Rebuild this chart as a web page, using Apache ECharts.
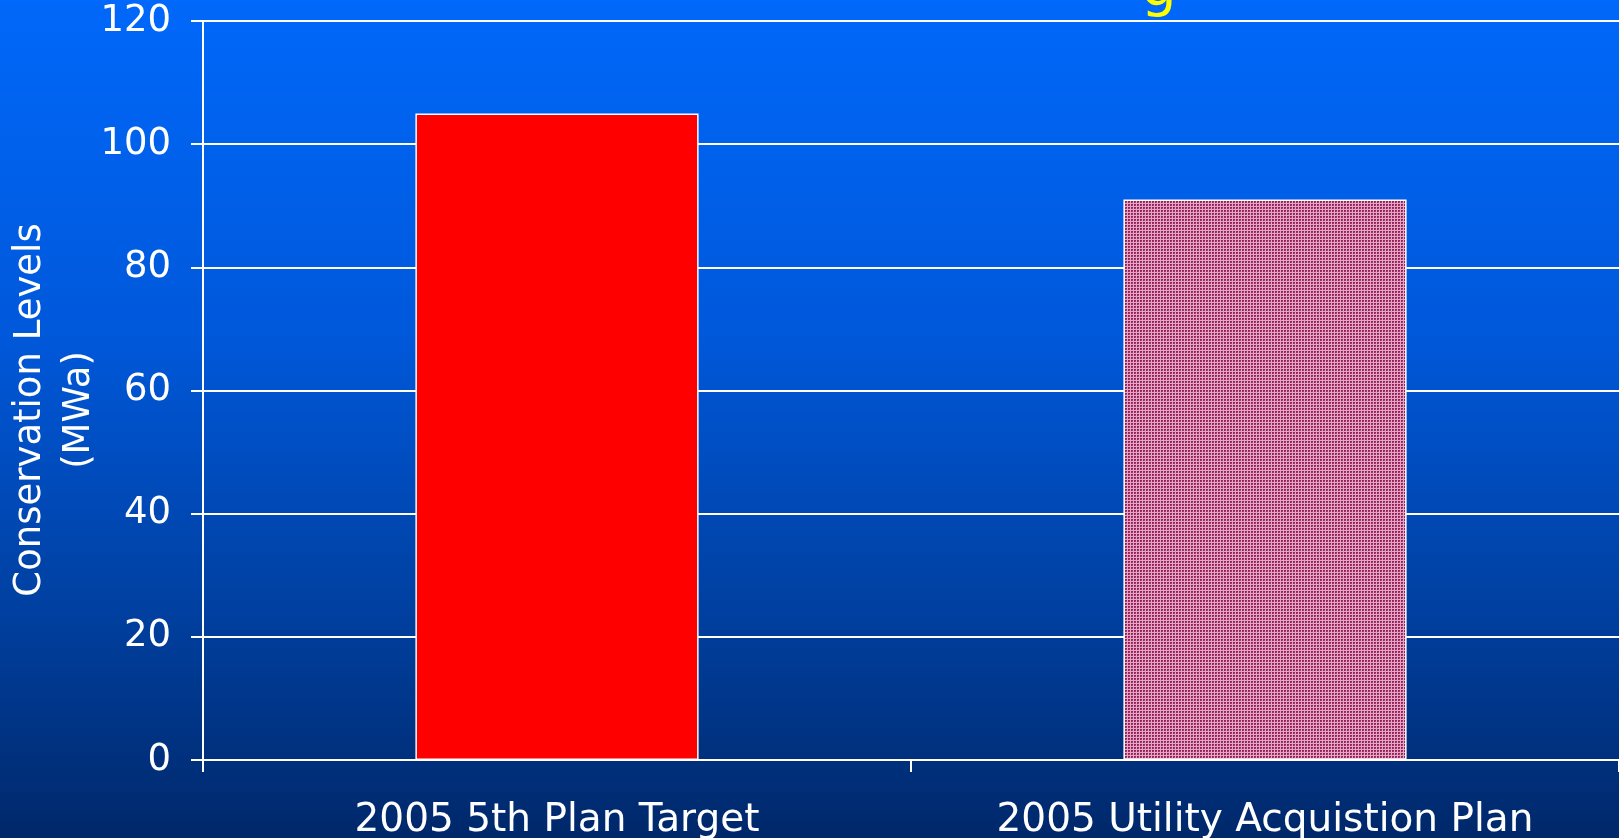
<!DOCTYPE html>
<html>
<head>
<meta charset="utf-8">
<script src="https://cdn.jsdelivr.net/npm/echarts@6/dist/echarts.min.js"></script>
<style>
html,body{margin:0;padding:0;width:1619px;height:838px;overflow:hidden;}
#c{width:1619px;height:838px;}
</style>
</head>
<body>
<div id="c"></div>
<script>
var categories = ['2005 5th Plan Target', '2005 Utility Acquistion Plan'];
var values = [105, 91];
var yTicks = {min: 0, max: 120, interval: 20};
var yAxisName = ['Conservation Levels', '(MWa)'];
var titleFragment = 'g';

// hatched pattern for second bar
var pc = document.createElement('canvas');
pc.width = 3; pc.height = 3;
var pctx = pc.getContext('2d');
pctx.fillStyle = '#e4a6c4';
pctx.fillRect(0, 0, 3, 3);
pctx.fillStyle = '#922459';
pctx.fillRect(0, 0, 2, 2);
pctx.fillStyle = '#b0447a';
pctx.fillRect(1, 1, 1, 1);

var chart = echarts.init(document.getElementById('c'), null, {renderer: 'canvas'});
var font = 'DejaVu Sans';
chart.setOption({
  backgroundColor: {
    type: 'linear', x: 0, y: 0, x2: 0, y2: 1,
    colorStops: [
      {offset: 0, color: '#0068fa'},
      {offset: 0.4, color: '#0058da'},
      {offset: 0.75, color: '#003e9c'},
      {offset: 1, color: '#00286a'}
    ]
  },
  animation: false,
  grid: {left: 203, right: 0, top: 21, bottom: 78, containLabel: false, outerBoundsMode: 'none'},
  xAxis: {
    type: 'category',
    data: categories,
    axisLine: {lineStyle: {color: '#ffffff', width: 2}},
    axisTick: {show: true, length: 12, lineStyle: {color: '#ffffff', width: 2}},
    axisLabel: {color: '#ffffff', fontSize: 39, fontFamily: font, margin: 41}
  },
  yAxis: {
    type: 'value',
    min: yTicks.min, max: yTicks.max, interval: yTicks.interval,
    axisLine: {show: true, lineStyle: {color: '#ffffff', width: 2}},
    axisTick: {show: true, length: 12, lineStyle: {color: '#ffffff', width: 2}},
    axisLabel: {color: '#ffffff', fontSize: 37, fontFamily: font, margin: 32},
    splitLine: {show: true, lineStyle: {color: '#ffffff', width: 2}}
  },
  series: [{
    type: 'bar',
    barWidth: '40%',
    data: [
      {value: values[0], itemStyle: {color: '#ff0000'}},
      {value: values[1], itemStyle: {color: {image: pc, repeat: 'repeat'}}}
    ],
    itemStyle: {borderColor: '#ffffff', borderWidth: 1.5}
  }],
  graphic: [
    {
      type: 'text',
      x: 55, y: 410,
      rotation: Math.PI / 2,
      style: {
        text: yAxisName.join('\n'),
        fill: '#ffffff',
        font: '37px "' + font + '"',
        align: 'center',
        verticalAlign: 'middle',
        lineHeight: 49
      }
    },
    {
      type: 'text',
      x: 1141, y: 18,
      style: {
        text: titleFragment,
        fill: '#ffff00',
        font: '56px "' + font + '"',
        align: 'left',
        verticalAlign: 'bottom',
        shadowColor: '#000000',
        shadowOffsetX: 3,
        shadowOffsetY: 3,
        shadowBlur: 0
      }
    }
  ]
});
</script>
</body>
</html>
